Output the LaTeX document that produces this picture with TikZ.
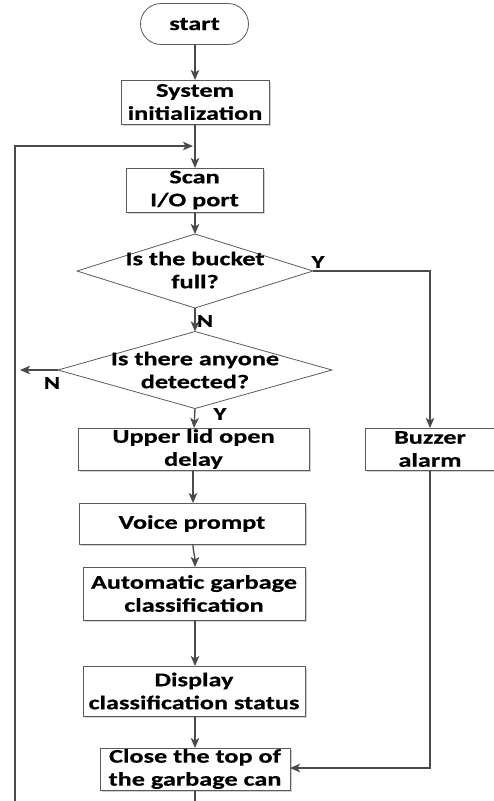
\documentclass[tikz,border=0pt]{standalone}
\usepackage{fontspec}
\setmainfont{Carlito}[FakeStretch=1.36,BoldFeatures={FakeBold=0.6}]
\usetikzlibrary{arrows.meta,shapes.geometric,shadows}
\definecolor{ln}{HTML}{4A4A4A}
\begin{document}
\begin{tikzpicture}[x=1pt,y=-1pt,
  font=\fontsize{19.3}{23}\selectfont\bfseries,
  every node/.style={inner sep=0pt,outer sep=0pt},
  box/.style={draw=ln!90,line width=0.8pt,fill=white,align=center,
    drop shadow={shadow xshift=1.6pt,shadow yshift=-1.6pt,fill=black!18,opacity=1}},
  dia/.style={draw=ln!90,line width=0.8pt,diamond,fill=white},
  txt/.style={align=center},
  conn/.style={draw=ln,line width=1.3pt,-{Stealth[length=10pt,width=8.5pt,inset=2.5pt]}},
  plain/.style={draw=ln,line width=1.3pt},
  lbl/.style={font=\fontsize{18}{20}\selectfont\bfseries}]
\useasboundingbox (0,0) rectangle (494,801);
\node[draw=ln!90,line width=0.8pt,minimum width=108pt,minimum height=41pt,rounded corners=20.5pt] (start) at (194.5,24) {start};
\node[box,minimum width=148pt,minimum height=44pt] (init) at (195,102) {System\\initialization};
\node[box,minimum width=137pt,minimum height=44pt] (scan) at (194.5,190) {Scan\\I/O port};
\node[dia,minimum width=236pt,minimum height=74pt] (d1) at (195,271) {};
\node[txt] (d1t) at (195,270) {Is the bucket\\full?};
\node[dia,minimum width=274pt,minimum height=77pt] (d2) at (195,370) {};
\node[txt] (d2t) at (195,370) {Is there anyone\\detected?};
\node[box,minimum width=231pt,minimum height=42pt] (upper) at (193.5,449) {Upper lid open\\delay};
\node[box,minimum width=130pt,minimum height=42pt] (buzz) at (430,449) {Buzzer\\alarm};
\node[box,minimum width=226pt,minimum height=41pt] (voice) at (192,523.5) {Voice prompt};
\node[box,minimum width=222pt,minimum height=53pt] (auto) at (194,593.5) {Automatic garbage\\classification};
\node[box,minimum width=222pt,minimum height=50pt] (disp) at (194,691) {Display\\classification status};
\node[box,minimum width=190pt,minimum height=42pt] (close) at (195,769) {Close the top of\\the garbage can};
\coordinate (bl) at (15,801);
\coordinate (lt) at (15,146);
\coordinate (ltend) at (193,146);
\coordinate (cb) at (195,801);
\coordinate (nend) at (20,370);
\coordinate (yturn) at (430,271);
\coordinate (bturn) at (430,768);
\path[conn] (start.south -| 195,0) -- (init.north -| 195,0);
\path[conn] (init.south -| 195,0) -- (scan.north -| 195,0);
\path[conn] (bl) -- (lt) -- (ltend);
\path[conn] (scan.south -| 195,0) -- (d1.north);
\path[conn] (d1.south) -- (d2.north);
\path[conn] (d1.east) -- (yturn) -- (buzz.north);
\path[conn] (d2.west) -- (nend);
\path[conn] (d2.south) -- (upper.north -| 194,0);
\path[conn] (upper.south -| 193,0) -- (voice.north -| 193,0);
\path[conn] (voice.south -| 193,0) .. controls (193,552) and (195,556) .. (auto.north -| 195,0);
\path[conn] (auto.south -| 195,0) -- (disp.north -| 195,0);
\path[conn] (disp.south -| 195,0) -- (close.north -| 195,0);
\path[conn] (buzz.south) -- (bturn) -- (close.east |- bturn);
\path[plain] (close.south -| 195,0) -- (cb);
\node[lbl] (ly1) at (318,262) {Y};
\node[lbl] (ln1) at (205,321) {N};
\node[lbl] (ln2) at (52,383) {N};
\node[lbl] (ly2) at (220,414) {Y};
\end{tikzpicture}
\end{document}
